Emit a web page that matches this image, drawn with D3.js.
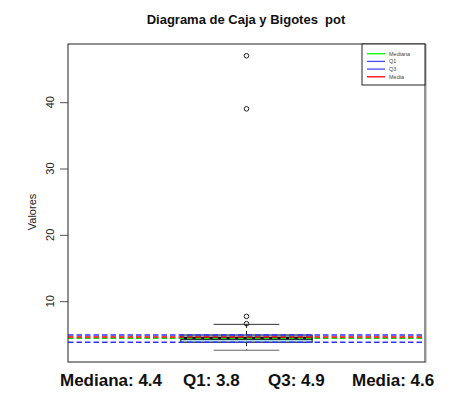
<!DOCTYPE html>
<html><head><meta charset="utf-8">
<script src="https://cdn.jsdelivr.net/npm/d3@7"></script>
<style>body{margin:0;background:#fff}svg{display:block;font-family:"Liberation Sans",Arial,sans-serif}</style>
</head><body><svg id="c" width="452" height="394"></svg>
<script>
const title = "Diagrama de Caja y Bigotes  pot";
const yLabel = "Valores";
const yTicks = [10, 20, 30, 40];
const boxStats = [{q1: 3.8, median: 4.4, q3: 4.9, lo: 2.6, hi: 6.5}];
const outliers = [6.6, 7.7, 39, 47];
const refNames = ["Mediana", "Q1", "Q3", "Media"];
const refValues = [4.4, 3.8, 4.9, 4.6];
const refColors = ["#00e000", "#3030ff", "#3030ff", "#ff0000"];
const summaryLabels = ["Mediana: 4.4", "Q1: 3.8", "Q3: 4.9", "Media: 4.6"];

const svg = d3.select("#c");
const L = 68, R = 425, T = 44, B = 362;
const allVals = outliers.concat([boxStats[0].lo, boxStats[0].hi]);
const mn = d3.min(allVals), mx = d3.max(allVals), ext = (mx - mn) * 0.04;
const y = d3.scaleLinear().domain([mn - ext, mx + ext]).range([B, T]);
const x = d3.scaleLinear().domain([0.5, 1.5]).range([L, R]);

// title
svg.append("text").attr("x", 246).attr("y", 24).attr("text-anchor", "middle")
  .attr("font-weight", "bold").attr("font-size", 13).attr("fill", "#111")
  .style("white-space", "pre").attr("xml:space", "preserve").text(title);

// y axis
const ax = svg.append("g").attr("transform", `translate(${L},0)`)
  .call(d3.axisLeft(y).tickValues(yTicks).tickSize(8).tickFormat(""));
ax.select(".domain").remove();
ax.selectAll(".tick line").attr("stroke", "#555");
svg.append("g").selectAll("text").data(yTicks).join("text")
  .attr("transform", d => `translate(54,${y(d)}) rotate(-90)`)
  .attr("text-anchor", "middle").attr("font-size", 11).attr("fill", "#222").text(d => d);

svg.append("text").attr("transform", `translate(36,212) rotate(-90)`).attr("text-anchor", "middle")
  .attr("font-size", 11).attr("fill", "#222").text(yLabel);

// box
const b = boxStats[0], cx = x(1), hw = x(1.184) - x(1), sw = hw / 2;
const g = svg.append("g");
g.append("line").attr("x1", cx).attr("x2", cx).attr("y1", y(b.q3)).attr("y2", y(b.hi))
  .attr("stroke", "#222").attr("stroke-dasharray", "4,3");
g.append("line").attr("x1", cx).attr("x2", cx).attr("y1", y(b.q1)).attr("y2", y(b.lo))
  .attr("stroke", "#222").attr("stroke-dasharray", "4,3");
g.append("line").attr("x1", cx - sw).attr("x2", cx + sw).attr("y1", y(b.hi)).attr("y2", y(b.hi)).attr("stroke", "#333");
g.append("line").attr("x1", cx - sw).attr("x2", cx + sw).attr("y1", y(b.lo)).attr("y2", y(b.lo)).attr("stroke", "#666");
g.append("rect").attr("x", cx - hw).attr("width", 2 * hw).attr("y", y(b.q3)).attr("height", y(b.q1) - y(b.q3))
  .attr("fill", "#add8e6").attr("stroke", "#111");
g.append("line").attr("x1", cx - hw).attr("x2", cx + hw).attr("y1", y(b.median)).attr("y2", y(b.median))
  .attr("stroke", "#000").attr("stroke-width", 3);
g.selectAll("circle").data(outliers).join("circle").attr("cx", cx).attr("cy", d => y(d)).attr("r", 2.3)
  .attr("fill", "none").attr("stroke", "#222").attr("stroke-width", 1);

// reference lines
svg.append("g").selectAll("line").data(refValues).join("line")
  .attr("x1", L).attr("x2", R).attr("y1", d => y(d)).attr("y2", d => y(d))
  .attr("stroke", (d, i) => refColors[i]).attr("stroke-width", 1.6).attr("stroke-dasharray", "5.5,3");

// frame
svg.append("rect").attr("x", L).attr("y", T).attr("width", R - L).attr("height", B - T)
  .attr("fill", "none").attr("stroke", "#222");
svg.append("line").attr("x1", R + 1).attr("x2", R + 1).attr("y1", T).attr("y2", B + 1).attr("stroke", "#999");

// legend
const lg = svg.append("g");
lg.append("rect").attr("x", 362).attr("y", T).attr("width", R - 362).attr("height", 41)
  .attr("fill", "#fff").attr("stroke", "#222");
refNames.forEach((n, i) => {
  const yy = 53.7 + i * 7.7;
  lg.append("line").attr("x1", 367).attr("x2", 385).attr("y1", yy).attr("y2", yy)
    .attr("stroke", i === 0 ? "#00ff00" : i === 3 ? "#ff0000" : "#4a4aff").attr("stroke-width", 1.3);
  lg.append("text").attr("x", 389).attr("y", yy).attr("dy", "0.35em").attr("font-size", 5.5)
    .attr("fill", "#444").text(n);
});

// summary
const sx = [60, 183, 268, 352];
svg.append("g").selectAll("text").data(summaryLabels).join("text")
  .attr("x", (d, i) => sx[i]).attr("y", 386).attr("font-size", 17).attr("font-weight", "bold")
  .attr("fill", "#111").text(d => d);
</script></body></html>
